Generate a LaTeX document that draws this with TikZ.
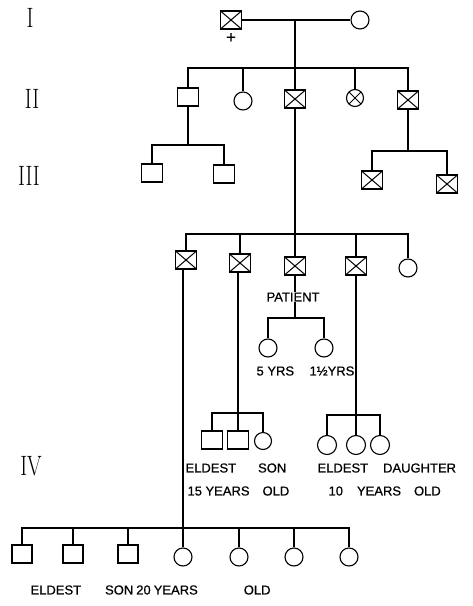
\documentclass[tikz,border=0pt]{standalone}
\usepackage{fontspec}
\newfontfamily\labfont[FakeBold=0.6]{Liberation Sans}
\begin{document}
\begin{tikzpicture}[x=1pt,y=-1pt,line width=1.1pt,
  msq/.style={draw,rectangle,minimum width=21pt,minimum height=18pt,inner sep=0pt},
  msqx/.style={msq,path picture={\draw[line width=1pt] (path picture bounding box.north west)--(path picture bounding box.south east) (path picture bounding box.north east)--(path picture bounding box.south west);}},
  fc/.style={draw,circle,minimum size=18pt,inner sep=0pt},
  fcx/.style={fc,minimum size=17pt,path picture={\draw[line width=1pt] (path picture bounding box.north west)--(path picture bounding box.south east) (path picture bounding box.north east)--(path picture bounding box.south west);}},
  gen/.style={font=\fontsize{28}{28}\selectfont,xscale=0.75,inner sep=0pt},
  lab/.style={font=\labfont\fontsize{13}{15}\selectfont,inner sep=0pt,anchor=west}]
\useasboundingbox (0,0) rectangle (472,606);
% generation labels
\node[gen] (gI) at (30,18) {I};
\node[gen] (gII) at (32,99) {II};
\node[gen] (gIII) at (29,176) {III};
\node[gen] (gIV) at (31,466) {IV};
% generation I
\node[msqx] (I1) at (231,20) {};
\node[inner sep=0pt,font=\labfont\fontsize{17}{17}\selectfont] (plus) at (231,38) {+};
\node[fc] (I2) at (360,20) {};
\coordinate (m1) at (295,20);
\draw (I1) -- (I2);
% generation II
\node[msq] (II1) at (188,97) {};
\node[fc] (II2) at (243,101) {};
\node[msqx] (II3) at (295,99) {};
\node[fcx] (II4) at (355,98) {};
\node[msqx] (II5) at (408,100) {};
\coordinate (s2) at (295,68);
\draw (m1) -- (II3.north);
\draw (II1.north) |- (s2) -| (II5.north);
\draw (II2.north) -- (II2.north |- s2);
\draw (II4.north) -- (II4.north |- s2);
% generation III
\node[msq] (III1) at (152,173) {};
\node[msq] (III2) at (224,174) {};
\node[msqx] (III3) at (372,180) {};
\node[msqx] (III4) at (447,184) {};
\coordinate (s3a) at (188,145);
\coordinate (s3b) at (408,151);
\draw (II1.south) -- (s3a);
\draw (III1.north) |- (s3a) -| (III2.north);
\draw (II5.south) -- (s3b);
\draw (III3.north) |- (s3b) -| (III4.north);
% patient generation
\node[msqx] (P1) at (186,260) {};
\node[msqx] (P2) at (240,263) {};
\node[msqx] (P3) at (295,266) {};
\node[msqx] (P4) at (356,266) {};
\node[fc] (P5) at (408,268) {};
\coordinate (s4) at (295,234);
\draw (II3.south) -- (s4) -- (P3.north);
\draw (P1.north) |- (s4) -| (P5.north);
\draw (P2.north) -- (P2.north |- s4);
\draw (P4.north) -- (P4.north |- s4);
\node[lab] (pat) at (266,297) {PATIENT};
% patient's children
\node[fc] (C1) at (268,348) {};
\node[fc] (C2) at (324,348) {};
\coordinate (s5) at (295,318);
\draw (P3.south) -- (P3.south |- pat.north);
\draw (P3.south |- pat.south) -- (s5);
\draw (C1.north) |- (s5) -| (C2.north);
\node[lab] (c1l) at (256,371) {5 YRS};
\node[lab] (c2l) at (309,371) {1½YRS};
% P2 children
\node[msq,minimum width=21pt] (D1) at (212,440) {};
\node[msq,minimum width=21pt] (D2) at (238,440) {};
\node[fc,minimum size=17pt] (D3) at (263,441) {};
\coordinate (s6) at (238,413);
\draw (P2.south -| D2) -- (s6);
\draw (D1.north) |- (s6) -| (D3.north);
\draw (D2.north) -- (s6);
\node[lab] (d1l) at (185,468) {ELDEST\hspace{22pt}SON};
\node[lab] (d2l) at (187,491) {15\hspace{3.5pt}YEARS\hspace{13pt}OLD};
% P4 children
\node[fc,minimum size=19pt] (E1) at (327,445) {};
\node[fc,minimum size=19pt] (E2) at (356,445) {};
\node[fc,minimum size=19pt] (E3) at (380,445) {};
\coordinate (s7) at (356,415);
\draw (P4.south) -- (s7);
\draw (E1.north) |- (s7) -| (E3.north);
\draw (E2.north) -- (s7);
\node[lab] (e1l) at (317,468) {ELDEST\hspace{15pt}DAUGHTER};
\node[lab] (e2l) at (328,491) {10\hspace{14pt}YEARS\hspace{13pt}OLD};
% P1 children
\node[msq,minimum width=20pt] (F1) at (22,554) {};
\node[msq,minimum width=20pt] (F2) at (73,554) {};
\node[msq,minimum width=20pt] (F3) at (128,554) {};
\node[fc] (F4) at (183,557) {};
\node[fc] (F5) at (239,557) {};
\node[fc] (F6) at (294,557) {};
\node[fc] (F7) at (349,557) {};
\coordinate (s8) at (183,528);
\draw (P1.south -| F4) -- (s8) -- (F4.north);
\draw (F1.north) |- (s8) -| (F7.north);
\draw (F2.north) -- (F2.north |- s8);
\draw (F3.north) -- (F3.north |- s8);
\draw (F5.north) -- (F5.north |- s8);
\draw (F6.north) -- (F6.north |- s8);
\node[lab] (fl) at (30,590) {ELDEST\hspace{24pt}SON\hspace{3pt}20\hspace{3pt}YEARS\hspace{46pt}OLD};
\end{tikzpicture}
\end{document}
